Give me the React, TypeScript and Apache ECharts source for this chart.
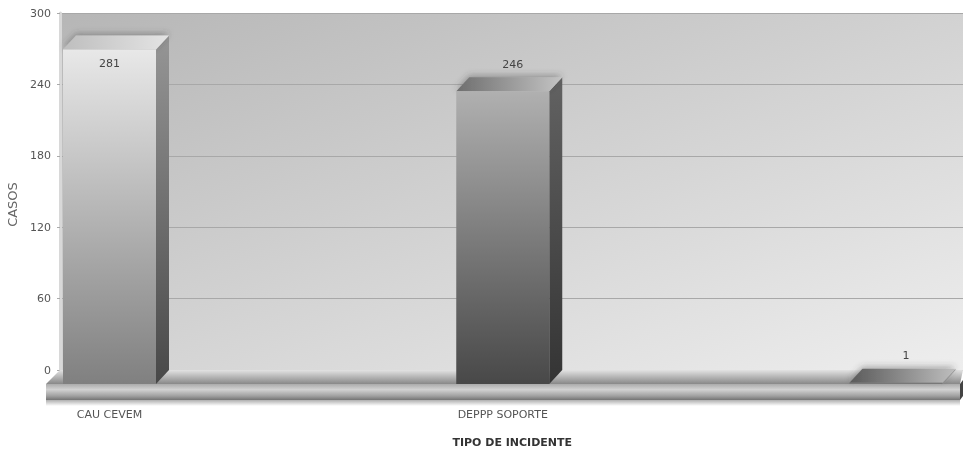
import React, { useEffect, useRef } from "react";
import * as echarts from "echarts";

const categories = ["CAU CEVEM", "DEPPP SOPORTE", ""];
const casos = [281, 246, 1];
const yTicks = [0, 60, 120, 180, 240, 300];

const W = 963, H = 451;
const FONT = "'DejaVu Sans', sans-serif";
const v = (a: number, b: number) => ({
  type: "linear", x: 0, y: 0, x2: 0, y2: 1,
  colorStops: [{ offset: 0, color: `rgb(${a},${a},${a})` }, { offset: 1, color: `rgb(${b},${b},${b})` }],
});
const h = (a: number, b: number) => ({
  type: "linear", x: 0, y: 0, x2: 1, y2: 0,
  colorStops: [{ offset: 0, color: `rgb(${a},${a},${a})` }, { offset: 1, color: `rgb(${b},${b},${b})` }],
});
const barLook = [
  { front: v(232, 128), side: v(150, 72), top: h(190, 228) },
  { front: v(176, 72), side: v(98, 52), top: h(110, 196) },
  { front: v(120, 120), side: v(150, 150), top: h(90, 190) },
];

const renderBar = (params: any, api: any) => {
  const i = api.value(0);
  const val = api.value(1);
  const c = api.coord([i, val]);
  const z = api.coord([i, 0]);
  const bw = 93, dx = 13, dy = 14;
  const xl = c[0] - bw / 2, xr = c[0] + bw / 2;
  const top = c[1] + dy, bot = z[1] + dy;
  const look = barLook[i];
  const inside = val > 270;
  return {
    type: "group",
    children: [
      { type: "polygon", shape: { points: [[xr, top], [xr + dx, top - dy], [xr + dx, bot - dy], [xr, bot]] }, style: { fill: look.side } },
      { type: "polygon", shape: { points: [[xl, top], [xl + dx, top - dy], [xr + dx, top - dy], [xr, top]] },
        style: { fill: look.top, shadowBlur: 6, shadowColor: "rgba(60,60,60,0.4)", shadowOffsetY: -2 } },
      { type: "rect", shape: { x: xl, y: top, width: bw, height: bot - top }, style: { fill: look.front } },
      { type: "text", style: { x: c[0] + (inside ? 0 : 10), y: inside ? top + 14 : c[1] - 13, text: String(val),
        fill: "#444", font: `11px ${FONT}`, align: "center", verticalAlign: "middle" } },
    ],
  };
};

export default function App() {
  const ref = useRef<HTMLDivElement>(null);
  useEffect(() => {
    const chart = echarts.init(ref.current!, undefined, { renderer: "svg", width: W, height: H });
    chart.setOption({
      animation: false,
      backgroundColor: "#fff",
      grid: [
        { left: 60, right: 0, top: 13, bottom: 81, show: true, borderWidth: 0, outerBoundsMode: "none",
          backgroundColor: { type: "linear", x: 0, y: 0, x2: 1, y2: 1,
            colorStops: [{ offset: 0, color: "rgb(182,182,182)" }, { offset: 1, color: "rgb(238,238,238)" }] } },
        { left: 109.5, right: 67, top: 13, bottom: 81, outerBoundsMode: "none" },
      ],
      xAxis: [
        { type: "value", gridIndex: 0, show: false, min: 0, max: 1 },
        { type: "category", gridIndex: 1, data: categories, boundaryGap: false,
          axisLine: { show: false }, axisTick: { show: false },
          axisLabel: { interval: 0, margin: 39, color: "#555", fontFamily: FONT, fontSize: 11 },
          name: "TIPO DE INCIDENTE", nameLocation: "middle", nameGap: 67,
          nameTextStyle: { fontFamily: FONT, fontSize: 11, fontWeight: "bold", color: "#333", padding: [0, 0, 0, 19] } },
      ],
      yAxis: [
        { type: "value", gridIndex: 0, min: 0, max: 300, interval: 60,
          axisLine: { show: true, lineStyle: { color: "#d8d8d8", width: 3 } },
          axisTick: { show: true, length: 3, lineStyle: { color: "#aaa" } },
          axisLabel: { margin: 9, color: "#555", fontFamily: FONT, fontSize: 11,
            formatter: (x: number) => (yTicks.includes(x) ? String(x) : "") },
          splitLine: { show: true, lineStyle: { color: "#a8a8a8", width: 1 } },
          name: "CASOS", nameLocation: "middle", nameGap: 34, nameRotate: 90,
          nameTextStyle: { fontFamily: FONT, fontSize: 13, color: "#666", padding: [6, 26, 0, 0] } },
        { type: "value", gridIndex: 1, min: 0, max: 300, interval: 60, show: false },
      ],
      graphic: [
        { type: "polygon", z: 1, shape: { points: [[60, 370], [963, 370], [960, 384], [46, 384]] },
          style: { fill: v(226, 136) } },
        { type: "rect", z: 1, shape: { x: 46, y: 400, width: 914, height: 6 }, style: { fill: v(175, 255) } },
        { type: "rect", z: 1, shape: { x: 46, y: 384, width: 914, height: 16 },
          style: { fill: { type: "linear", x: 0, y: 0, x2: 0, y2: 1, colorStops: [
            { offset: 0, color: "#ababab" }, { offset: 0.35, color: "#d2d2d2" }, { offset: 0.75, color: "#a0a0a0" }, { offset: 1, color: "#747474" } ] } } },
        { type: "polygon", z: 1, shape: { points: [[960, 384], [963, 380], [963, 396], [960, 400]] }, style: { fill: "#444" } },
      ],
      series: [
        { type: "custom", xAxisIndex: 1, yAxisIndex: 1, z: 5, clip: false,
          data: casos.map((c, i) => [i, c]), encode: { x: 0, y: 1 }, renderItem: renderBar },
      ],
    });
    return () => chart.dispose();
  }, []);
  return <div ref={ref} style={{ position: "fixed", left: 0, top: 0, width: W, height: H, filter: "blur(0.4px)" }} />;
}
